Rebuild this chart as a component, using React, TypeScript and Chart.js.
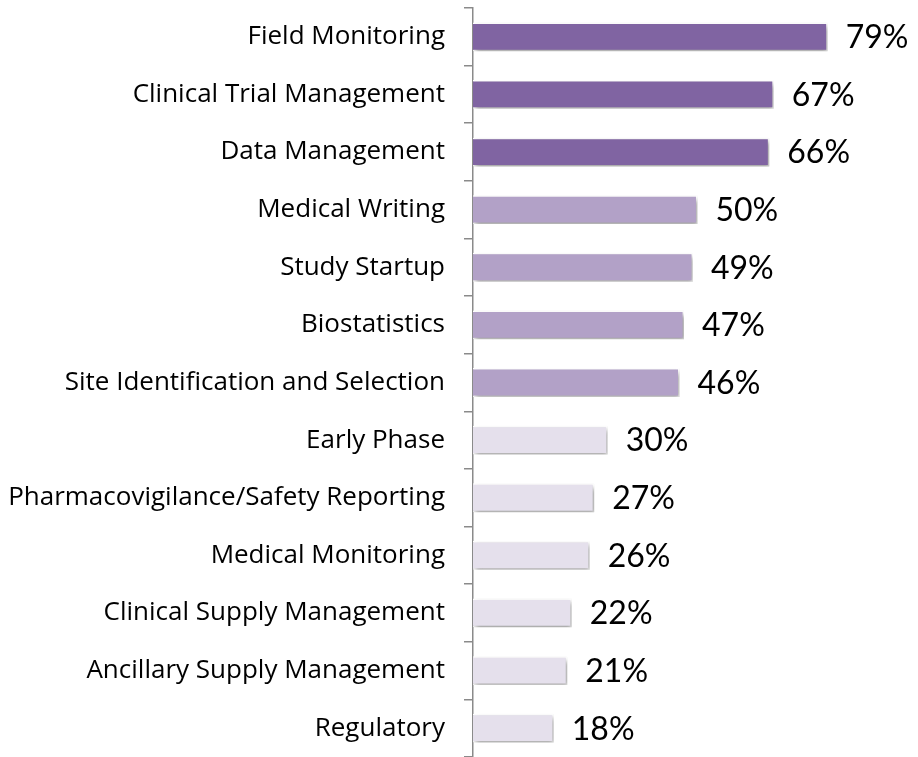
import React, { useEffect, useRef } from "react";
import { Chart, registerables } from "chart.js";

Chart.register(...registerables);

const categories = [
  "Field Monitoring",
  "Clinical Trial Management",
  "Data Management",
  "Medical Writing",
  "Study Startup",
  "Biostatistics",
  "Site Identification and Selection",
  "Early Phase",
  "Pharmacovigilance/Safety Reporting",
  "Medical Monitoring",
  "Clinical Supply Management",
  "Ancillary Supply Management",
  "Regulatory",
];
const values = [79, 67, 66, 50, 49, 47, 46, 30, 27, 26, 22, 21, 18];
const tiers = [0, 0, 0, 1, 1, 1, 1, 2, 2, 2, 2, 2, 2];
const tierColors = ["#8064A2", "#B2A1C7", "#E5E0EC"];

const shadowPlugin = {
  id: "barShadow",
  beforeDatasetsDraw(chart: any) {
    const ctx = chart.ctx;
    ctx.save();
    ctx.shadowColor = "rgba(0,0,0,0.38)";
    ctx.shadowBlur = 5;
    ctx.shadowOffsetX = 2;
    ctx.shadowOffsetY = 3;
  },
  afterDatasetsDraw(chart: any) {
    const ctx = chart.ctx;
    ctx.restore();
    const meta = chart.getDatasetMeta(0);
    ctx.save();
    ctx.font = "32px Lato";
    ctx.fillStyle = "#000";
    ctx.textAlign = "left";
    ctx.textBaseline = "middle";
    meta.data.forEach((bar: any, i: number) => {
      ctx.fillText(values[i] + "%", bar.x + 18, bar.y + 1);
    });
    ctx.restore();
  },
};

export default function App() {
  const ref = useRef<HTMLCanvasElement>(null);
  useEffect(() => {
    if (!ref.current) return;
    const chart = new Chart(ref.current, {
      type: "bar",
      data: {
        labels: categories,
        datasets: [
          {
            data: values,
            backgroundColor: tiers.map((t) => tierColors[t]),
            borderColor: "#FFFFFF",
            borderWidth: 1.5,
            barPercentage: 0.5,
            categoryPercentage: 1,
          },
        ],
      },
      options: {
        indexAxis: "y",
        animation: false,
        responsive: false,
        maintainAspectRatio: false,
        layout: { padding: { top: 8, right: 14, bottom: 0, left: 0 } },
        plugins: {
          legend: { display: false },
          tooltip: { enabled: false },
        },
        scales: {
          x: {
            display: false,
            min: 0,
            max: 96,
          },
          y: {
            afterFit(scale: any) {
              scale.width = 473;
              scale.paddingTop = 0;
              scale.paddingBottom = 0;
            },
            border: { display: true, color: "#8A8A8A", width: 1.5 },
            grid: {
              display: true,
              drawOnChartArea: false,
              drawTicks: true,
              tickLength: 9,
              color: "#8A8A8A",
              lineWidth: 1.5,
              offset: true,
            },
            ticks: {
              padding: 19,
              color: "#000",
              font: { family: "'Open Sans'", size: 26 },
            },
          },
        },
      },
      plugins: [shadowPlugin],
    });
    return () => chart.destroy();
  }, []);
  return (
    <div style={{ position: "absolute", left: 0, top: 0, width: 918, height: 757, background: "#fff" }}>
      <canvas ref={ref} width={918} height={757} style={{ display: "block" }} />
    </div>
  );
}
